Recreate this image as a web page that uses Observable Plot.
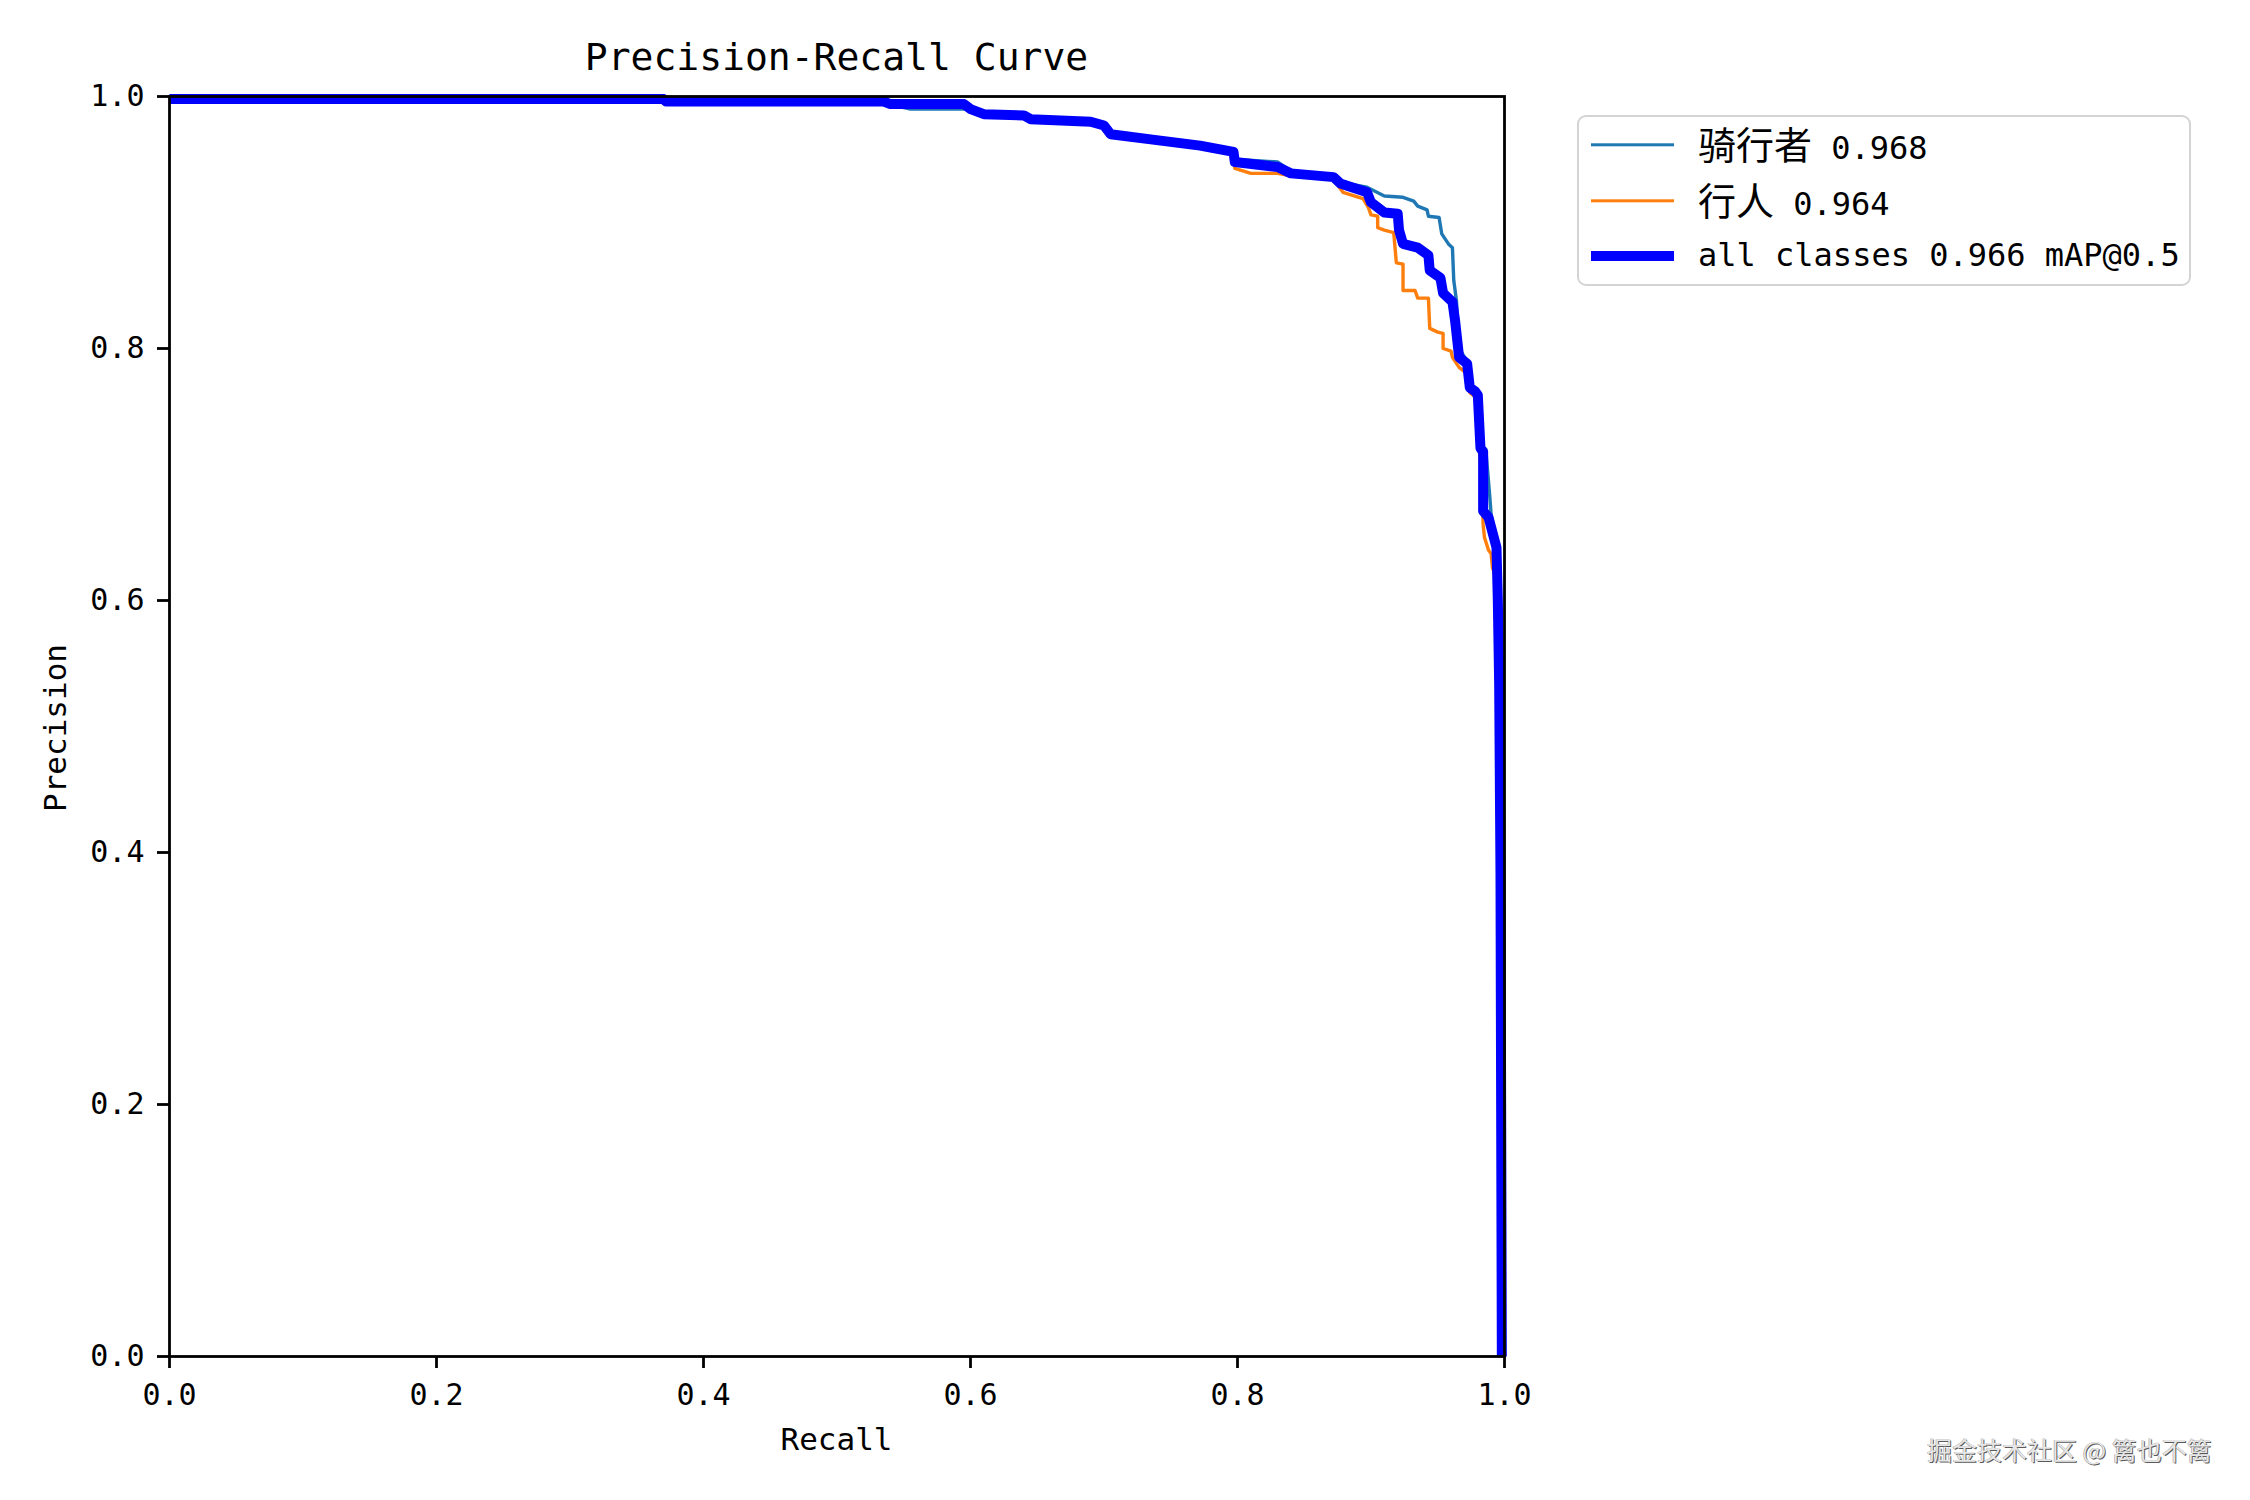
<!DOCTYPE html>
<html>
<head>
<meta charset="utf-8">
<script src="https://cdn.jsdelivr.net/npm/d3@7"></script>
<script src="https://cdn.jsdelivr.net/npm/@observablehq/plot@0.6"></script>
<style>
  html, body { margin: 0; padding: 0; background: #fff; }
  #wrap { position: relative; width: 2250px; height: 1500px; overflow: hidden; font-family: "DejaVu Sans Mono", "Noto Sans CJK SC", monospace; color: #000; }
  #chart { position: absolute; left: 0; top: 0; }
  .abs { position: absolute; white-space: nowrap; }
  .cjk { font-family: "Noto Sans CJK SC", sans-serif; font-size: 38px; }
  #legend { position: absolute; left: 1577px; top: 115px; width: 610px; height: 167px; border: 2.5px solid #d4d4d4; border-radius: 9px; background: #fff; }
  .row { position: absolute; left: 0; height: 50px; width: 100%; }
  .sw { position: absolute; left: 12px; width: 83px; top: 50%; transform: translateY(-50%); }
  .lt { position: absolute; left: 119px; top: 50%; transform: translateY(-52%); font-size: 32px; line-height: 1; }
  #wm { font-family: "Noto Sans CJK SC", sans-serif; font-size: 25px; color: #e6e6e6; text-shadow: 1px 1px 0 #5a5a5a, -0.5px -0.5px 0 #9a9a9a; }
</style>
</head>
<body>
<div id="wrap">
  <div id="chart"></div>
  <div id="title" class="abs" style="left:169px; width:1335px; top:36px; text-align:center; font-size:38px; line-height:42px;"></div>
  <div id="xlabel" class="abs" style="left:169px; width:1335px; top:1422px; text-align:center; font-size:31px; line-height:34px;"></div>
  <div id="ylabel" class="abs" style="left:55px; top:728px; font-size:31px; line-height:34px; transform: translate(-50%,-50%) rotate(-90deg);"></div>
  <div id="legend"></div>
  <div id="wm" class="abs" style="left:1927px; top:1433px; line-height:32px;"></div>
</div>
<script>
// ---- data ----
const titleText = "Precision-Recall Curve";
const xLabel = "Recall";
const yLabel = "Precision";
const tickValues = [0, 0.2, 0.4, 0.6, 0.8, 1.0];

const classNames = ["骑行者", "行人", "all classes"];
const classAP = ["0.968", "0.964", "0.966 mAP@0.5"];
const classColors = ["#1f77b4", "#ff7f0e", "#0000ff"];
const classWidths = [3.4, 3.4, 10];

// 骑行者
const riderRecall = [0, 0.37, 0.372, 0.53, 0.555, 0.597, 0.60, 0.61, 0.64, 0.645, 0.69, 0.70, 0.705, 0.735, 0.772, 0.797, 0.80, 0.83, 0.84, 0.872, 0.877, 0.897, 0.910, 0.924, 0.932, 0.935, 0.942, 0.943, 0.951, 0.953, 0.958, 0.961, 0.962, 0.964, 0.966, 0.972, 0.975, 0.980, 0.983, 0.986, 0.989, 0.990, 0.994, 0.996, 0.998];
const riderPrecision = [0.998, 0.998, 0.996, 0.996, 0.990, 0.990, 0.989, 0.986, 0.985, 0.982, 0.980, 0.977, 0.970, 0.966, 0.961, 0.956, 0.950, 0.948, 0.941, 0.937, 0.932, 0.928, 0.921, 0.920, 0.917, 0.913, 0.910, 0.905, 0.904, 0.891, 0.883, 0.880, 0.854, 0.838, 0.800, 0.790, 0.768, 0.765, 0.722, 0.720, 0.682, 0.668, 0.645, 0.550, 0.0];

// 行人
const pedRecall = [0, 0.37, 0.372, 0.54, 0.595, 0.60, 0.61, 0.64, 0.645, 0.69, 0.70, 0.705, 0.735, 0.772, 0.797, 0.798, 0.81, 0.83, 0.84, 0.872, 0.879, 0.894, 0.898, 0.900, 0.905, 0.905, 0.910, 0.917, 0.919, 0.924, 0.924, 0.933, 0.935, 0.943, 0.944, 0.950, 0.954, 0.954, 0.960, 0.961, 0.966, 0.972, 0.974, 0.980, 0.981, 0.983, 0.984, 0.985, 0.988, 0.990, 0.991, 0.993, 0.995, 0.997];
const pedPrecision = [0.998, 0.998, 0.996, 0.994, 0.994, 0.990, 0.986, 0.985, 0.982, 0.980, 0.977, 0.970, 0.966, 0.961, 0.956, 0.943, 0.939, 0.939, 0.937, 0.934, 0.924, 0.919, 0.912, 0.906, 0.905, 0.896, 0.894, 0.892, 0.868, 0.867, 0.846, 0.846, 0.840, 0.840, 0.816, 0.813, 0.812, 0.800, 0.798, 0.793, 0.785, 0.780, 0.765, 0.760, 0.720, 0.700, 0.660, 0.650, 0.640, 0.637, 0.626, 0.620, 0.500, 0.0];

// all classes
const allRecall = [0, 0.37, 0.372, 0.535, 0.54, 0.595, 0.60, 0.61, 0.64, 0.645, 0.69, 0.70, 0.705, 0.735, 0.772, 0.797, 0.798, 0.83, 0.84, 0.872, 0.877, 0.897, 0.900, 0.910, 0.920, 0.921, 0.924, 0.935, 0.943, 0.944, 0.952, 0.954, 0.961, 0.963, 0.966, 0.972, 0.974, 0.978, 0.980, 0.982, 0.984, 0.984, 0.988, 0.994, 0.995, 0.996, 0.997, 0.998];
const allPrecision = [0.998, 0.998, 0.996, 0.996, 0.994, 0.994, 0.990, 0.986, 0.985, 0.982, 0.980, 0.977, 0.970, 0.966, 0.961, 0.956, 0.948, 0.944, 0.939, 0.936, 0.931, 0.924, 0.916, 0.908, 0.907, 0.894, 0.883, 0.880, 0.874, 0.862, 0.856, 0.844, 0.837, 0.822, 0.793, 0.788, 0.769, 0.766, 0.763, 0.721, 0.718, 0.671, 0.666, 0.642, 0.600, 0.534, 0.383, 0.0];

const watermark = "掘金技术社区 @ 篱也不篱";

// ---- build tables ----
const toRows = (rs, ps) => rs.map((r, i) => ({r, p: ps[i]}));
const series = [toRows(riderRecall, riderPrecision), toRows(pedRecall, pedPrecision), toRows(allRecall, allPrecision)];

const W = 2250, H = 1500;
const chart = Plot.plot({
  width: W,
  height: H,
  marginLeft: 169,
  marginRight: W - 1504,
  marginTop: 96,
  marginBottom: H - 1356,
  style: {fontFamily: "DejaVu Sans Mono", fontSize: "30px", background: "transparent", color: "#000"},
  x: {domain: [0, 1]},
  y: {domain: [0, 1]},
  marks: [
    ...series.map((d, i) => Plot.line(d, {x: "r", y: "p", stroke: classColors[i], strokeWidth: classWidths[i], strokeLinejoin: "round", strokeLinecap: "butt"})),
    Plot.frame({stroke: "#000", strokeWidth: 2.8}),
    Plot.axisX({ticks: tickValues, tickFormat: d => d.toFixed(1), tickSize: 12, tickPadding: 15, strokeWidth: 2.8, fontSize: 30, label: null}),
    Plot.axisY({ticks: tickValues, tickFormat: d => d.toFixed(1), tickSize: 12, tickPadding: 13, strokeWidth: 2.8, fontSize: 30, label: null})
  ]
});
document.getElementById("chart").appendChild(chart);

document.getElementById("title").textContent = titleText;
document.getElementById("xlabel").textContent = xLabel;
document.getElementById("ylabel").textContent = yLabel;
document.getElementById("wm").textContent = watermark;

// legend
const legend = document.getElementById("legend");
const rowCenters = [28, 84, 139];
classNames.forEach((name, i) => {
  const row = document.createElement("div");
  row.className = "row";
  row.style.top = (rowCenters[i] - 25) + "px";
  const sw = document.createElement("div");
  sw.className = "sw";
  sw.style.height = classWidths[i] + "px";
  sw.style.background = classColors[i];
  const lt = document.createElement("div");
  lt.className = "lt";
  if (/[\u4e00-\u9fff]/.test(name)) {
    const s = document.createElement("span");
    s.className = "cjk";
    s.textContent = name;
    lt.appendChild(s);
    lt.appendChild(document.createTextNode(" " + classAP[i]));
  } else {
    lt.textContent = name + " " + classAP[i];
  }
  row.appendChild(sw);
  row.appendChild(lt);
  legend.appendChild(row);
});
</script>
</body>
</html>
